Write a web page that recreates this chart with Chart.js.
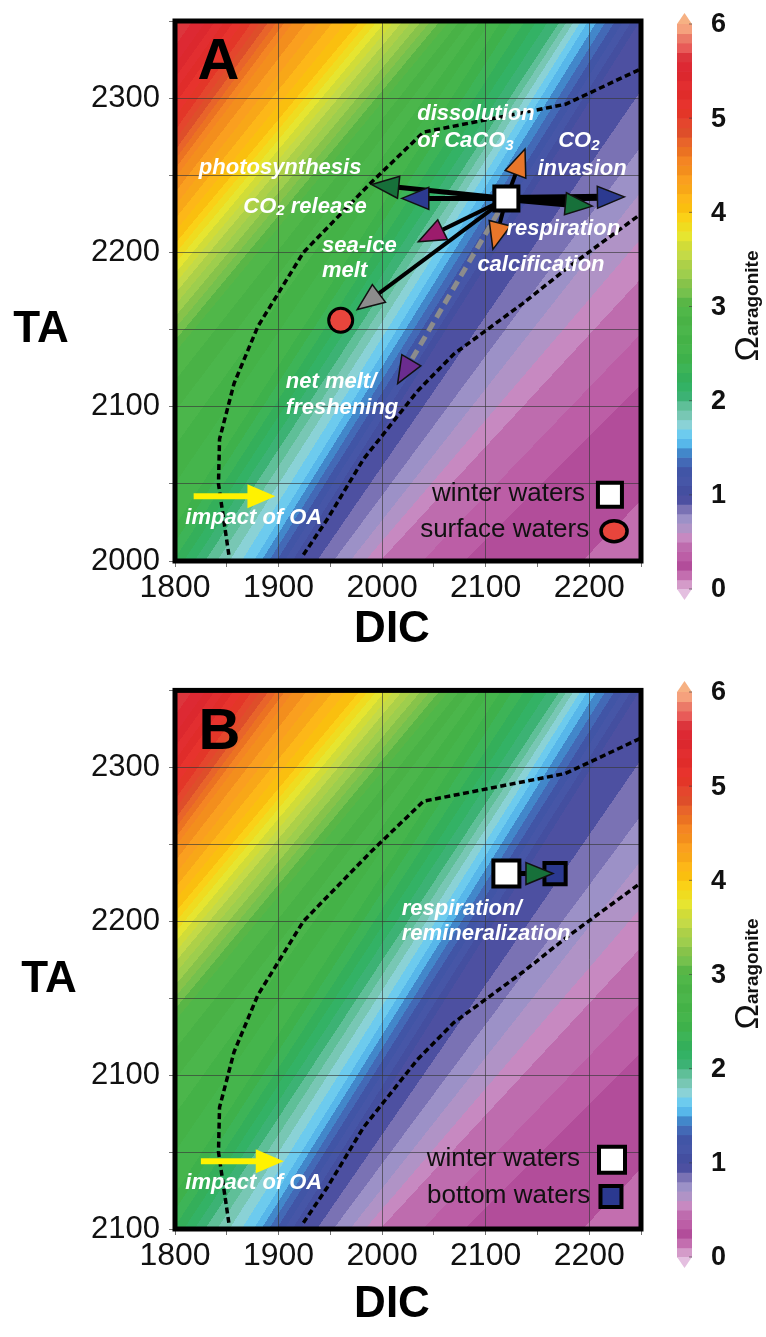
<!DOCTYPE html>
<html>
<head>
<meta charset="utf-8">
<script src="https://cdn.jsdelivr.net/npm/chart.js@4.4.1/dist/chart.umd.min.js"></script>
<style>
  body { margin: 0; background: #fff; }
  .panel { position: relative; width: 766px; }
  canvas { display: block; }
</style>
</head>
<body>
<div class="panel" style="height:668px"><canvas id="chartA"></canvas></div>
<div class="panel" style="height:669px"><canvas id="chartB"></canvas></div>
<script>
// ---- axes ----
const dicMin = 1800, dicMax = 2250;
const taMin = 2000, taMax = 2350;
const taTickValues = [2000, 2100, 2200, 2300];
const taTickLabelsA = ['2000', '2100', '2200', '2300'];
const taTickLabelsB = ['2100', '2100', '2200', '2300'];
const omegaTicks = [0, 1, 2, 3, 4, 5, 6];

// ---- saturation field: DIC where each omega level crosses TA=2000 and TA=2350 ----
const omegaLevels     = [0.15, 0.3, 0.5, 0.7, 0.85, 1.0, 1.3, 1.6, 2.0, 2.5, 3.0, 3.5, 4.0, 4.5, 5.0, 5.5, 6.0];
const omegaDicAtTaMin = [2250, 2080, 1998, 1969, 1945, 1921, 1898, 1876, 1829, 1778, 1633, 1584, 1545, 1520, 1505, 1460, 1420];
const omegaDicAtTaMax = [2750, 2600, 2480, 2380, 2320, 2249, 2225, 2199, 2172, 2115, 2065, 2020, 1979, 1915, 1875, 1830, 1765];

// ---- dashed contours ----
const contourHighDic = [1852, 1842, 1843, 1857, 1880, 1924, 1989, 2040, 2177, 2250];
const contourHighTa  = [2004, 2050, 2079, 2115, 2152, 2200, 2245, 2278, 2296, 2319];
const contourLowDic  = [1924, 1947, 1982, 2034, 2069, 2136, 2181, 2250];
const contourLowTa   = [2004, 2027, 2066, 2110, 2134, 2167, 2191, 2225];

// ---- water samples ----
const samplesA = ['winter waters', 'surface waters'];
const sampleDicA = [2120, 1960];
const sampleTaA = [2235, 2156];
const samplesB = ['winter waters', 'bottom waters'];
const sampleDicB = [2120, 2167];
const sampleTaB = [2231, 2231];

// ---- process vectors (all start at winter waters) ----
const processA = ['photosynthesis', 'CO2 release', 'respiration', 'CO2 invasion',
  'dissolution of CaCO3', 'calcification', 'sea-ice melt', 'melt to surface', 'net melt/freshening'];
const processTipDicA = [1990, 2019, 2203, 2234, 2138, 2107, 2035, 1976, 2015];
const processTipTaA  = [2244, 2235, 2230, 2236, 2267, 2202, 2207, 2163, 2115];
const processB = ['respiration/remineralization'];
const processTipDicB = [2165];
const processTipTaB  = [2231];

// ---- ocean acidification shift ----
const oaDicA = [1818, 1897];
const oaTaA  = [2042, 2042];
const oaDicB = [1825, 1905];
const oaTaB  = [2044, 2044];

const FONT = '"Liberation Sans", Arial, Helvetica, sans-serif';
Chart.defaults.font.family = FONT;

// colour map for omega
const cmapAt = [0, 0.1, 0.25, 0.4, 0.55, 0.7, 0.85, 0.95, 1.1, 1.3, 1.42, 1.55, 1.65, 1.78, 1.92, 2.1, 2.5, 3.0, 3.2, 3.5, 3.8, 4.0, 4.3, 4.6, 4.85, 5.1, 5.6, 5.8, 6.0];
const cmapHex = ['#e4bfe0', '#c77ab5', '#b44f9c', '#bd62a8', '#c587bf', '#a99ccc', '#7c74b6', '#4b4e9f', '#4452a3', '#4358a9', '#3f7cc4',
  '#55b5e8', '#6fcdf0', '#8fd1cc', '#66c0a0', '#2faf66', '#42b34a', '#4fb547', '#7fc24c', '#b9d54a', '#ede629', '#fcc70f', '#f9a31c',
  '#f07d22', '#e0502c', '#e6322a', '#da2632', '#ea6a62', '#f6b183'];
const cmapRgb = cmapHex.map(h => [1, 3, 5].map(i => parseInt(h.substr(i, 2), 16)));

function cmap(v) {
  if (v <= cmapAt[0]) return cmapRgb[0].slice();
  for (let i = 1; i < cmapAt.length; i++) {
    if (v <= cmapAt[i]) {
      const t = (v - cmapAt[i - 1]) / (cmapAt[i] - cmapAt[i - 1]);
      return cmapRgb[i].map((c, j) => Math.round(cmapRgb[i - 1][j] + t * (c - cmapRgb[i - 1][j])));
    }
  }
  return cmapRgb[cmapRgb.length - 1].slice();
}

// banded look like the filled contour plot
const bandLut = [];
for (let k = 0; k < 60; k++) {
  const c = cmap((k + 0.5) / 10);
  const d = k % 2 ? 2 : -2;
  bandLut.push(c.map(v => Math.max(0, Math.min(255, v + d))));
}
function bandColor(om) {
  const k = Math.max(0, Math.min(59, Math.floor(om * 10)));
  return bandLut[k];
}

function omegaAtRow(crossings, dic) {
  if (dic >= crossings[0]) return omegaLevels[0];
  for (let k = 1; k < crossings.length; k++) {
    if (dic >= crossings[k]) {
      const t = (crossings[k - 1] - dic) / (crossings[k - 1] - crossings[k]);
      return omegaLevels[k - 1] + t * (omegaLevels[k] - omegaLevels[k - 1]);
    }
  }
  return omegaLevels[omegaLevels.length - 1];
}

const fieldPlugin = {
  id: 'omegaField',
  beforeDraw(chart) {
    const { ctx, chartArea: a, scales: { x, y } } = chart;
    const left = Math.round(a.left), top = Math.round(a.top);
    const w = Math.round(a.right) - left, h = Math.round(a.bottom) - top;
    const img = ctx.createImageData(w, h);
    const dics = [];
    for (let i = 0; i < w; i++) dics.push(x.getValueForPixel(left + i + 0.5));
    for (let j = 0; j < h; j++) {
      const ta = y.getValueForPixel(top + j + 0.5);
      const f = (ta - taMin) / (taMax - taMin);
      const crossings = omegaLevels.map((_, k) => omegaDicAtTaMin[k] + f * (omegaDicAtTaMax[k] - omegaDicAtTaMin[k]));
      for (let i = 0; i < w; i++) {
        const c = bandColor(omegaAtRow(crossings, dics[i]));
        const p = (j * w + i) * 4;
        img.data[p] = c[0]; img.data[p + 1] = c[1]; img.data[p + 2] = c[2]; img.data[p + 3] = 255;
      }
    }
    ctx.putImageData(img, left, top);
  }
};

function drawHead(ctx, x0, y0, x1, y1, fill, stroke, len, half) {
  const ang = Math.atan2(y1 - y0, x1 - x0);
  ctx.save();
  ctx.translate(x1, y1);
  ctx.rotate(ang);
  ctx.beginPath();
  ctx.moveTo(0, 0);
  ctx.lineTo(-len, -half);
  ctx.lineTo(-len, half);
  ctx.closePath();
  ctx.fillStyle = fill;
  ctx.fill();
  if (stroke) {
    ctx.lineWidth = 1.5;
    ctx.strokeStyle = '#111';
    ctx.lineJoin = 'miter';
    ctx.stroke();
  }
  ctx.restore();
}

function drawRich(ctx, parts, x, y, size) {
  let cx = x;
  parts.forEach(p => {
    const sub = p.startsWith('_');
    const t = sub ? p.slice(1) : p;
    ctx.font = `italic bold ${sub ? Math.round(size * 0.7) : size}px ${FONT}`;
    ctx.fillText(t, cx, sub ? y + size * 0.2 : y);
    cx += ctx.measureText(t).width;
  });
}

const overlayPlugin = {
  id: 'overlay',
  beforeDatasetsDraw(chart) {
    // pull the shaft ends back to the arrow-head base
    const { scales: { x, y } } = chart;
    chart.data.datasets.forEach((ds, i) => {
      if (!ds.headColor) return;
      const pts = chart.getDatasetMeta(i).data;
      const p0 = pts[0], p1 = pts[1];
      const tx = x.getPixelForValue(ds.data[1].x), ty = y.getPixelForValue(ds.data[1].y);
      const d = Math.hypot(tx - p0.x, ty - p0.y);
      const back = ds.headLen * 0.8;
      p1.x = tx - (tx - p0.x) / d * back;
      p1.y = ty - (ty - p0.y) / d * back;
    });
  },
  afterDatasetsDraw(chart, args, opts) {
    const { ctx, chartArea: a, scales: { x, y } } = chart;
    ctx.save();
    // arrow heads
    chart.data.datasets.forEach((ds, i) => {
      if (!ds.headColor) return;
      const p0 = chart.getDatasetMeta(i).data[0];
      const tx = x.getPixelForValue(ds.data[1].x), ty = y.getPixelForValue(ds.data[1].y);
      drawHead(ctx, p0.x, p0.y, tx, ty, ds.headColor, ds.headStroke, ds.headLen, ds.headHalf);
    });

    // process labels
    ctx.fillStyle = '#fff';
    ctx.textBaseline = 'middle';
    ctx.textAlign = 'left';
    opts.notes.forEach(n => drawRich(ctx, n.parts, x.getPixelForValue(n.dic), y.getPixelForValue(n.ta), 22));

    // legend
    ctx.textAlign = 'right';
    ctx.font = `26px ${FONT}`;
    opts.legend.forEach(l => {
      ctx.fillStyle = '#111';
      ctx.fillText(l.label, x.getPixelForValue(l.textDic), y.getPixelForValue(l.ta));
      const mx = x.getPixelForValue(l.markDic), my = y.getPixelForValue(l.ta) + 1;
      ctx.beginPath();
      if (l.shape === 'circle') ctx.ellipse(mx, my, l.w / 2, l.h / 2, 0, 0, Math.PI * 2);
      else ctx.rect(mx - l.w / 2, my - l.h / 2, l.w, l.h);
      ctx.fillStyle = l.fill;
      ctx.fill();
      ctx.lineWidth = l.bw;
      ctx.strokeStyle = '#000';
      ctx.stroke();
    });

    // panel letter
    ctx.fillStyle = '#000';
    ctx.textAlign = 'center';
    ctx.font = `bold 58px ${FONT}`;
    ctx.fillText(opts.letter, x.getPixelForValue(opts.letterDic), y.getPixelForValue(opts.letterTa));

    // frame
    ctx.lineWidth = 5;
    ctx.strokeStyle = '#000';
    ctx.strokeRect(a.left, a.top, a.right - a.left, a.bottom - a.top);

    // axis titles
    ctx.font = `bold 44px ${FONT}`;
    ctx.fillText('TA', opts.taTitle[0], opts.taTitle[1]);
    ctx.fillText('DIC', opts.dicTitle[0], opts.dicTitle[1]);

    // colour bar
    const cbL = 677, cbW = 15, cbTop = 24, cbBot = 589;
    const yOf = v => cbBot - (v / 6) * (cbBot - cbTop);
    for (let k = 0; k < 60; k++) {
      const c = bandLut[k];
      ctx.fillStyle = `rgb(${c[0]},${c[1]},${c[2]})`;
      ctx.fillRect(cbL, yOf((k + 1) / 10), cbW, yOf(k / 10) - yOf((k + 1) / 10) + 0.6);
    }
    const top = cmap(6), bot = cmap(0);
    ctx.fillStyle = `rgb(${top.join(',')})`;
    ctx.beginPath(); ctx.moveTo(cbL, cbTop); ctx.lineTo(cbL + cbW / 2, cbTop - 11); ctx.lineTo(cbL + cbW, cbTop); ctx.closePath(); ctx.fill();
    ctx.fillStyle = `rgb(${bot.join(',')})`;
    ctx.beginPath(); ctx.moveTo(cbL, cbBot); ctx.lineTo(cbL + cbW / 2, cbBot + 11); ctx.lineTo(cbL + cbW, cbBot); ctx.closePath(); ctx.fill();
    ctx.strokeStyle = 'rgba(60,60,60,0.6)';
    ctx.lineWidth = 1;
    ctx.font = `bold 27px ${FONT}`;
    ctx.textAlign = 'left';
    ctx.fillStyle = '#111';
    omegaTicks.forEach(v => {
      const py = yOf(v);
      ctx.beginPath(); ctx.moveTo(cbL + cbW - 3, py); ctx.lineTo(cbL + cbW, py); ctx.stroke();
      ctx.fillText(String(v), 711, py + 1);
    });

    // colour bar title
    ctx.save();
    ctx.translate(758, 306);
    ctx.rotate(-Math.PI / 2);
    ctx.textBaseline = 'alphabetic';
    ctx.font = `34px ${FONT}`;
    const wO = ctx.measureText('Ω').width;
    ctx.font = `bold 19px ${FONT}`;
    const wA = ctx.measureText('aragonite').width;
    const sx = -(wO + wA) / 2;
    ctx.font = `34px ${FONT}`;
    ctx.fillText('Ω', sx, 0);
    ctx.font = `bold 19px ${FONT}`;
    ctx.fillText('aragonite', sx + wO, 0);
    ctx.restore();

    ctx.restore();
  }
};

function line(dics, tas) {
  return dics.map((d, i) => ({ x: d, y: tas[i] }));
}

function buildChart(id, p) {
  const datasets = [];
  p.samples.forEach((name, i) => {
    datasets.push({
      label: name,
      data: [{ x: p.sampleDic[i], y: p.sampleTa[i] }],
      pointStyle: p.sampleStyle[i].shape,
      pointRadius: p.sampleStyle[i].r,
      backgroundColor: p.sampleStyle[i].fill,
      borderColor: '#000',
      borderWidth: p.sampleStyle[i].bw,
      order: 0
    });
  });
  p.process.forEach((name, i) => {
    const s = p.processStyle[i];
    datasets.push({
      label: name,
      data: [{ x: p.sampleDic[0], y: p.sampleTa[0] }, { x: p.tipDic[i], y: p.tipTa[i] }],
      showLine: true,
      borderColor: s.color || '#000',
      borderWidth: s.width,
      borderDash: s.dash || [],
      borderCapStyle: 'butt',
      pointRadius: 0,
      headColor: s.head,
      headStroke: true,
      headLen: 27,
      headHalf: 11,
      order: 2
    });
  });
  datasets.push({
    label: 'impact of OA',
    data: line(p.oaDic, p.oaTa),
    showLine: true,
    borderColor: '#fff200',
    borderWidth: 6,
    borderCapStyle: 'butt',
    pointRadius: 0,
    headColor: '#fff200',
    headStroke: false,
    headLen: 28,
    headHalf: 12,
    order: 2
  });
  [[contourHighDic, contourHighTa], [contourLowDic, contourLowTa]].forEach(([d, t]) => {
    datasets.push({
      label: 'contour',
      data: line(d, t),
      showLine: true,
      borderColor: '#000',
      borderWidth: 3.5,
      borderDash: [6, 3.5],
      pointRadius: 0,
      tension: 0,
      order: 3
    });
  });

  return new Chart(document.getElementById(id), {
    type: 'scatter',
    data: { datasets },
    plugins: [fieldPlugin, overlayPlugin],
    options: {
      responsive: true,
      maintainAspectRatio: false,
      animation: false,
      events: [],
      layout: { padding: { top: p.padTop, right: 125, left: 0, bottom: 0 } },
      plugins: {
        legend: { display: false },
        tooltip: { enabled: false },
        overlay: p.overlay
      },
      scales: {
        x: {
          type: 'linear',
          min: dicMin, max: dicMax,
          afterFit: s => { s.height = p.xAxisHeight; s.paddingLeft = 0; s.paddingRight = 0; },
          border: { display: false },
          grid: {
            color: c => (c.tick && c.tick.value % 100 === 0 && c.tick.value > dicMin) ? 'rgba(55,55,55,0.65)' : 'rgba(0,0,0,0)',
            tickColor: 'rgba(80,80,80,0.8)',
            tickLength: 6,
            lineWidth: 1
          },
          ticks: {
            stepSize: 50,
            autoSkip: false,
            maxRotation: 0,
            padding: 2,
            color: '#111',
            font: { size: 32 },
            callback: v => (v % 100 === 0 ? String(v) : '')
          }
        },
        y: {
          type: 'linear',
          min: taMin, max: taMax,
          afterFit: s => { s.width = 175; s.paddingTop = 0; s.paddingBottom = 0; },
          border: { display: false },
          grid: {
            color: c => (c.tick && c.tick.value > taMin && c.tick.value < taMax) ? 'rgba(55,55,55,0.65)' : 'rgba(0,0,0,0)',
            tickColor: 'rgba(80,80,80,0.8)',
            tickLength: 6,
            lineWidth: 1
          },
          ticks: {
            stepSize: 50,
            autoSkip: false,
            padding: 9,
            color: '#111',
            font: { size: 31, lineHeight: 0.8 },
            callback: v => {
              const k = taTickValues.indexOf(v);
              return k >= 0 ? p.taLabels[k] : '';
            }
          }
        }
      }
    }
  });
}

const headGreen = '#17703a', headBlue = '#2c3a90', headOrange = '#e8762a';

buildChart('chartA', {
  padTop: 14,
  xAxisHeight: 107,
  taLabels: taTickLabelsA,
  samples: samplesA, sampleDic: sampleDicA, sampleTa: sampleTaA,
  sampleStyle: [
    { shape: 'rect', r: 17, fill: '#ffffff', bw: 4 },
    { shape: 'circle', r: 12, fill: '#e8453c', bw: 3 }
  ],
  process: processA, tipDic: processTipDicA, tipTa: processTipTaA,
  processStyle: [
    { head: headGreen, width: 5 },
    { head: headBlue, width: 5 },
    { head: headGreen, width: 7 },
    { head: headBlue, width: 7 },
    { head: headOrange, width: 4 },
    { head: headOrange, width: 4 },
    { head: '#9c1c6c', width: 4 },
    { head: '#8c8c8c', width: 4 },
    { head: '#6b2c8f', width: 5, color: '#8c8c8c', dash: [10, 6] }
  ],
  oaDic: oaDicA, oaTa: oaTaA,
  overlay: {
    letter: 'A', letterDic: 1842, letterTa: 2323,
    taTitle: [41, 330], dicTitle: [392, 630],
    notes: [
      { parts: ['dissolution'], dic: 2034, ta: 2290 },
      { parts: ['of CaCO', '_3'], dic: 2034, ta: 2272 },
      { parts: ['CO', '_2'], dic: 2170, ta: 2272 },
      { parts: ['invasion'], dic: 2150, ta: 2254 },
      { parts: ['photosynthesis'], dic: 1823, ta: 2255 },
      { parts: ['CO', '_2', ' release'], dic: 1866, ta: 2229.5 },
      { parts: ['respiration'], dic: 2120, ta: 2215 },
      { parts: ['sea-ice'], dic: 1942, ta: 2204.5 },
      { parts: ['melt'], dic: 1942, ta: 2188 },
      { parts: ['calcification'], dic: 2092, ta: 2192 },
      { parts: ['net melt/'], dic: 1907, ta: 2116 },
      { parts: ['freshening'], dic: 1907, ta: 2099 },
      { parts: ['impact of OA'], dic: 1810, ta: 2028 }
    ],
    legend: [
      { label: 'winter waters', textDic: 2196, ta: 2043.6, markDic: 2220, shape: 'rect', w: 24, h: 24, fill: '#ffffff', bw: 4 },
      { label: 'surface waters', textDic: 2200, ta: 2020, markDic: 2224, shape: 'circle', w: 26, h: 21, fill: '#e8453c', bw: 3.5 }
    ]
  }
});

buildChart('chartB', {
  padTop: 16,
  xAxisHeight: 108,
  taLabels: taTickLabelsB,
  samples: samplesB, sampleDic: sampleDicB, sampleTa: sampleTaB,
  sampleStyle: [
    { shape: 'rect', r: 18.4, fill: '#ffffff', bw: 4 },
    { shape: 'rect', r: 15, fill: '#2b3990', bw: 4 }
  ],
  process: processB, tipDic: processTipDicB, tipTa: processTipTaB,
  processStyle: [{ head: headGreen, width: 5 }],
  oaDic: oaDicB, oaTa: oaTaB,
  overlay: {
    letter: 'B', letterDic: 1843, letterTa: 2322,
    taTitle: [49, 312], dicTitle: [392, 637],
    notes: [
      { parts: ['respiration/'], dic: 2019, ta: 2208 },
      { parts: ['remineralization'], dic: 2019, ta: 2192 },
      { parts: ['impact of OA'], dic: 1810, ta: 2030 }
    ],
    legend: [
      { label: 'winter waters', textDic: 2191, ta: 2045.6, markDic: 2222, shape: 'rect', w: 26, h: 26, fill: '#ffffff', bw: 4 },
      { label: 'bottom waters', textDic: 2201, ta: 2021.8, markDic: 2221, shape: 'rect', w: 21, h: 21, fill: '#2b3990', bw: 4 }
    ]
  }
});
</script>
</body>
</html>
